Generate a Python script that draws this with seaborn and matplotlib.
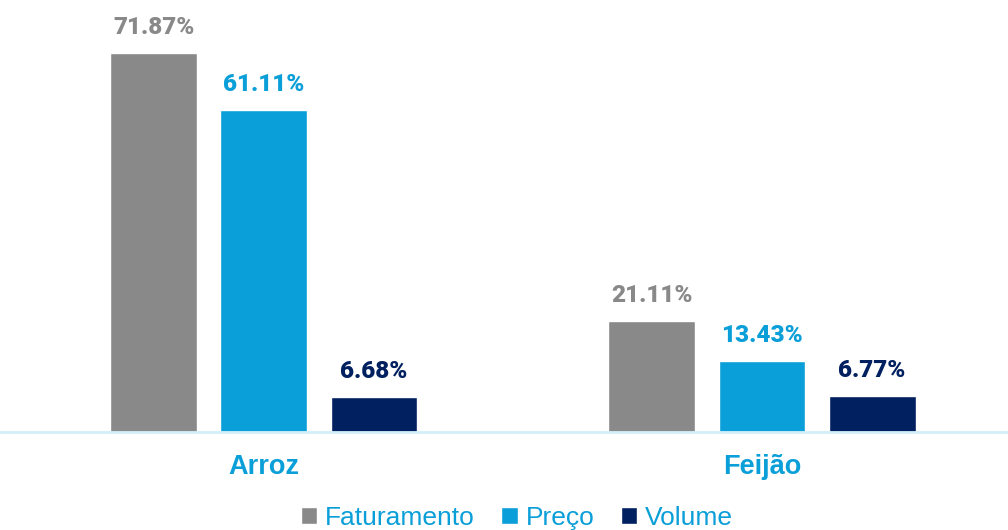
import pandas as pd
import seaborn as sns
import matplotlib.pyplot as plt
from matplotlib.patches import Patch

# chart data
produtos = ['Arroz', 'Feijão']
series = ['Faturamento', 'Preço', 'Volume']
faturamento = [71.87, 21.11]
preco = [61.11, 13.43]
volume = [6.68, 6.77]

cores = ['#898989', '#0A9FD8', '#002060']

df = pd.DataFrame({
    'Produto': produtos * 3,
    'Serie': [s for s in series for _ in produtos],
    'Valor': faturamento + preco + volume,
})

sns.set_style('white')
fig = plt.figure(figsize=(10.08, 5.30), dpi=100)
ax = fig.add_axes([0, 98 / 530, 1, 432 / 530])

sns.barplot(data=df, x='Produto', y='Valor', hue='Serie', palette=cores,
            saturation=1, width=0.663, gap=0.21, ax=ax, legend=False)

# value labels above each bar, same colour as bar
for cont, cor in zip(ax.containers, cores):
    labels = [f'{v:.2f}%' for v in cont.datavalues]
    ax.bar_label(cont, labels=labels, padding=10, color=cor,
                 fontsize=17.5, fontweight='heavy', family='Roboto')

ax.set_xlim(-0.530, 1.494)
ax.set_ylim(0, 82)
ax.set_xlabel('')
ax.set_ylabel('')
ax.set_yticks([])
for s in ['top', 'left', 'right']:
    ax.spines[s].set_visible(False)
ax.spines['bottom'].set_color('#D3EEF9')
ax.spines['bottom'].set_linewidth(2)
ax.tick_params(axis='x', length=0, pad=16)
for t in ax.get_xticklabels():
    t.set_fontsize(19.5)
    t.set_fontweight('bold')
    t.set_color('#0A9FD8')
    t.set_family('Liberation Sans')

handles = [Patch(facecolor=c, label=s) for c, s in zip(cores, series)]
fig.legend(handles=handles, loc='center', bbox_to_anchor=(517 / 1008, 12 / 530),
           ncol=3, frameon=False, handlelength=0.62, handleheight=0.62,
           handletextpad=0.3, columnspacing=1.0, labelcolor='#0A9FD8',
           prop={'family': 'Liberation Sans', 'size': 19})

fig.savefig('out.png', dpi=100)
